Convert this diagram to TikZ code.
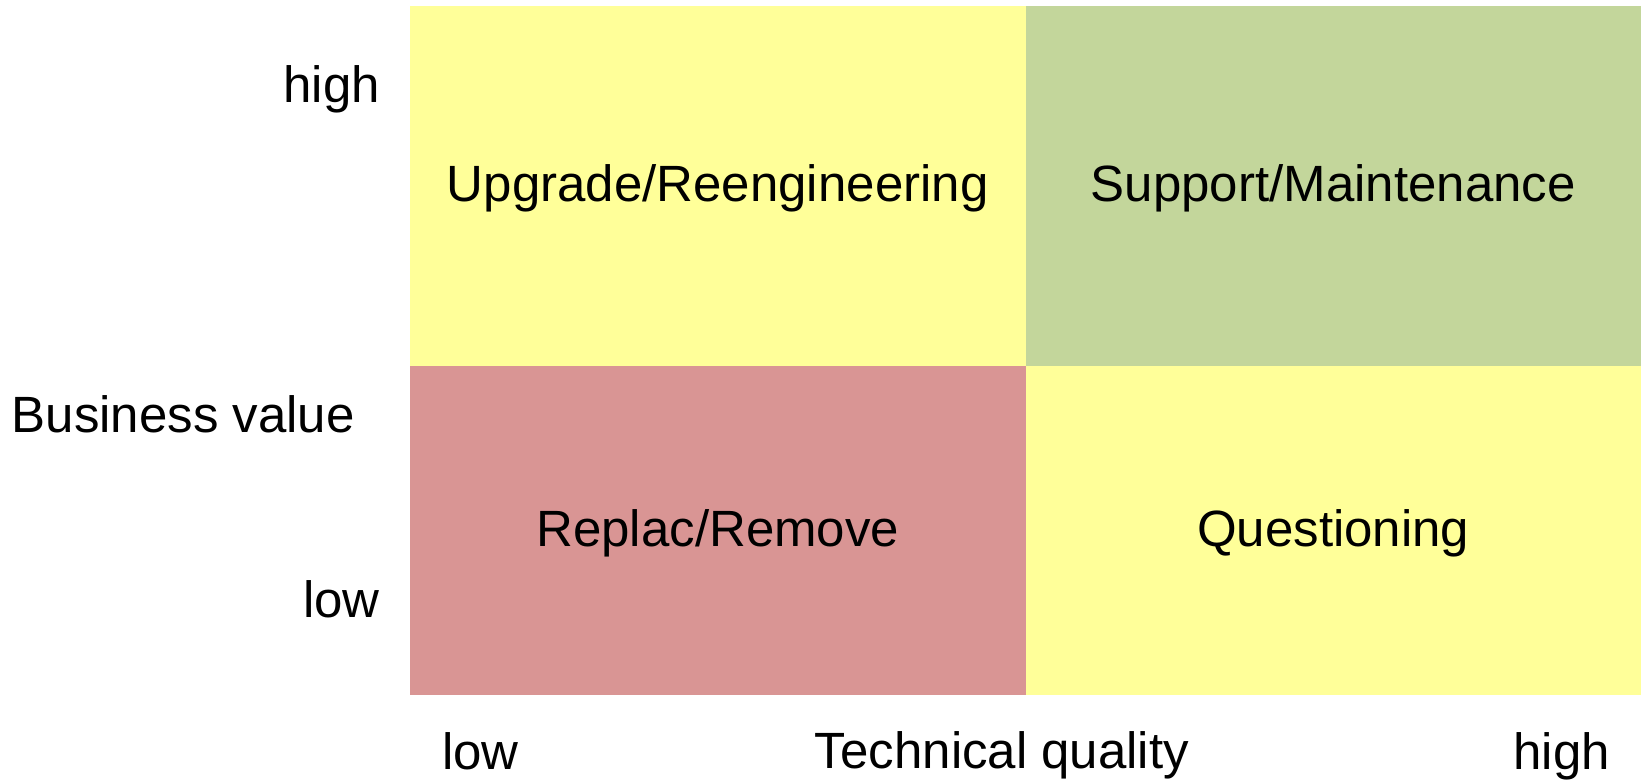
\documentclass[tikz,border=0pt]{standalone}
\usepackage{fontspec}
\setmainfont{Liberation Sans}
\usetikzlibrary{positioning}

\definecolor{quadyellow}{HTML}{FFFF99}
\definecolor{quadgreen}{HTML}{C3D69B}
\definecolor{quadred}{HTML}{D99594}

\begin{document}
\begin{tikzpicture}[x=1pt, y=1pt, on grid, node distance=344.5pt and 615.5pt,
    quad/.style={rectangle, inner sep=0pt, text depth=5pt, minimum width=615.5pt},
    toprow/.style={quad, minimum height=360pt},
    botrow/.style={quad, minimum height=329pt},
    axislabel/.style={inner sep=0pt}]
   \useasboundingbox (0,0) rectangle (1641,783);
   \fontsize{51}{60}\selectfont
   % quadrants
   \node[toprow, fill=quadyellow] (upgrade)  at (717.75,597) {Upgrade/Reengineering};
   \node[toprow, fill=quadgreen]  (support)  [right=of upgrade] {Support/Maintenance};
   \node[botrow, fill=quadred]    (replace)  [below=of upgrade] {Replac/Remove};
   \node[botrow, fill=quadyellow] (question) [right=of replace] {Questioning};
   % business value axis
   \node[axislabel, anchor=base east] (yhigh)  at (380,680) {high};
   \node[axislabel, anchor=base east] (yname)  at (355,350) {Business value};
   \node[axislabel, anchor=base east] (ylow)   at (380,165) {low};
   % technical quality axis
   \node[axislabel, anchor=base west] (xlow)   at (442,13) {low};
   \node[axislabel, anchor=base]      (xname)  at (1002,14) {Technical quality};
   \node[axislabel, anchor=base east] (xhigh)  at (1610,13) {high};
\end{tikzpicture}
\end{document}
